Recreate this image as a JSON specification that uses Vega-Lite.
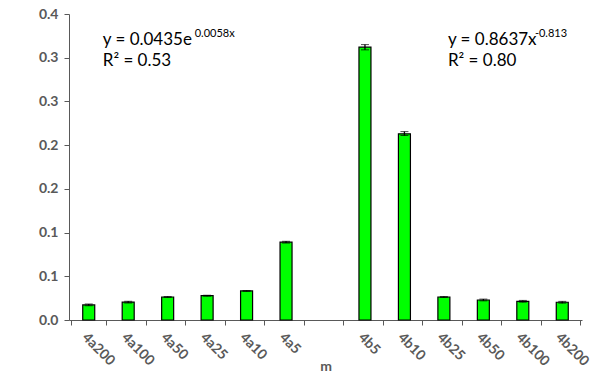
{
  "$schema": "https://vega.github.io/schema/vega-lite/v6.json",
  "width": 513,
  "height": 306,
  "autosize": "none",
  "padding": {"left": 69, "top": 14, "right": 13, "bottom": 53},
  "config": {
    "view": {"stroke": null},
    "font": "Lato",
    "axis": {
      "domainColor": "#595959",
      "tickColor": "#595959",
      "labelColor": "#595959",
      "titleColor": "#595959",
      "labelFont": "Lato",
      "titleFont": "Lato",
      "labelFontWeight": "bold",
      "titleFontWeight": "bold",
      "labelFontSize": 14,
      "titleFontSize": 14,
      "tickSize": 5,
      "grid": false
    }
  },
  "datasets": {
    "uptake": [
      {"site": "4a200", "mean": 0.0172, "lo": 0.0162, "hi": 0.0182},
      {"site": "4a100", "mean": 0.0204, "lo": 0.0194, "hi": 0.0214},
      {"site": "4a50", "mean": 0.0263, "lo": 0.0258, "hi": 0.0268},
      {"site": "4a25", "mean": 0.0278, "lo": 0.0273, "hi": 0.0283},
      {"site": "4a10", "mean": 0.0332, "lo": 0.0327, "hi": 0.0337},
      {"site": "4a5", "mean": 0.089, "lo": 0.088, "hi": 0.090},
      {"site": "4b5", "mean": 0.312, "lo": 0.309, "hi": 0.315},
      {"site": "4b10", "mean": 0.213, "lo": 0.211, "hi": 0.2155},
      {"site": "4b25", "mean": 0.0263, "lo": 0.0258, "hi": 0.0268},
      {"site": "4b50", "mean": 0.0229, "lo": 0.0219, "hi": 0.0239},
      {"site": "4b100", "mean": 0.0214, "lo": 0.0204, "hi": 0.0224},
      {"site": "4b200", "mean": 0.0203, "lo": 0.0193, "hi": 0.0213}
    ]
  },
  "layer": [
    {
      "data": {"name": "uptake"},
      "mark": {"type": "bar", "fill": "#00FF00", "stroke": "#000000", "strokeWidth": 1.2, "size": 12},
      "encoding": {
        "x": {
          "field": "site",
          "type": "nominal",
          "sort": null,
          "scale": {
            "domain": ["4a200", "4a100", "4a50", "4a25", "4a10", "4a5", " ", "4b5", "4b10", "4b25", "4b50", "4b100", "4b200"]
          },
          "axis": {
            "title": "m",
            "labelAngle": 45,
            "labelAlign": "left",
            "labelBaseline": "top",
            "labelPadding": 5,
            "tickBand": "extent",
            "titleY": 50,
            "titleBaseline": "alphabetic"
          }
        },
        "y": {
          "field": "mean",
          "type": "quantitative",
          "scale": {"domain": [0, 0.35], "nice": false, "zero": true},
          "axis": {
            "title": "mgU.kg⁻¹",
            "values": [0, 0.05, 0.1, 0.15, 0.2, 0.25, 0.3, 0.35],
            "labelExpr": "format(datum.value + 1e-9, '.1f')",
            "labelPadding": 6,
            "titlePadding": 5
          }
        }
      }
    },
    {
      "data": {"name": "uptake"},
      "mark": {"type": "errorbar", "ticks": {"size": 8, "color": "#000000", "strokeWidth": 1.3}, "rule": {"color": "#000000", "strokeWidth": 1.3}},
      "encoding": {
        "x": {"field": "site", "type": "nominal", "sort": null},
        "y": {"field": "lo", "type": "quantitative", "title": null},
        "y2": {"field": "hi"}
      }
    },
    {
      "data": {"values": [
        {"site": "4a200", "pos": 0.3205, "label": "y = 0.0435e"},
        {"site": "4a200", "pos": 0.2965, "label": "R² = 0.53"}
      ]},
      "mark": {"type": "text", "align": "left", "baseline": "middle", "dx": 14, "fontSize": 17, "font": "Lato", "color": "#000000"},
      "encoding": {
        "x": {"field": "site", "type": "nominal", "sort": null},
        "y": {"field": "pos", "type": "quantitative"},
        "text": {"field": "label"}
      }
    },
    {
      "data": {"values": [
        {"site": "4a200", "pos": 0.3205, "label": "0.0058x"}
      ]},
      "mark": {"type": "text", "align": "left", "baseline": "middle", "dx": 106, "dy": -6, "fontSize": 11, "font": "Lato", "color": "#000000"},
      "encoding": {
        "x": {"field": "site", "type": "nominal", "sort": null},
        "y": {"field": "pos", "type": "quantitative"},
        "text": {"field": "label"}
      }
    },
    {
      "data": {"values": [
        {"site": "4b25", "pos": 0.3205, "label": "y = 0.8637x"},
        {"site": "4b25", "pos": 0.2965, "label": "R² = 0.80"}
      ]},
      "mark": {"type": "text", "align": "left", "baseline": "middle", "dx": 4, "fontSize": 17, "font": "Lato", "color": "#000000"},
      "encoding": {
        "x": {"field": "site", "type": "nominal", "sort": null},
        "y": {"field": "pos", "type": "quantitative"},
        "text": {"field": "label"}
      }
    },
    {
      "data": {"values": [
        {"site": "4b25", "pos": 0.3205, "label": "-0.813"}
      ]},
      "mark": {"type": "text", "align": "left", "baseline": "middle", "dx": 91, "dy": -6, "fontSize": 11, "font": "Lato", "color": "#000000"},
      "encoding": {
        "x": {"field": "site", "type": "nominal", "sort": null},
        "y": {"field": "pos", "type": "quantitative"},
        "text": {"field": "label"}
      }
    }
  ]
}
